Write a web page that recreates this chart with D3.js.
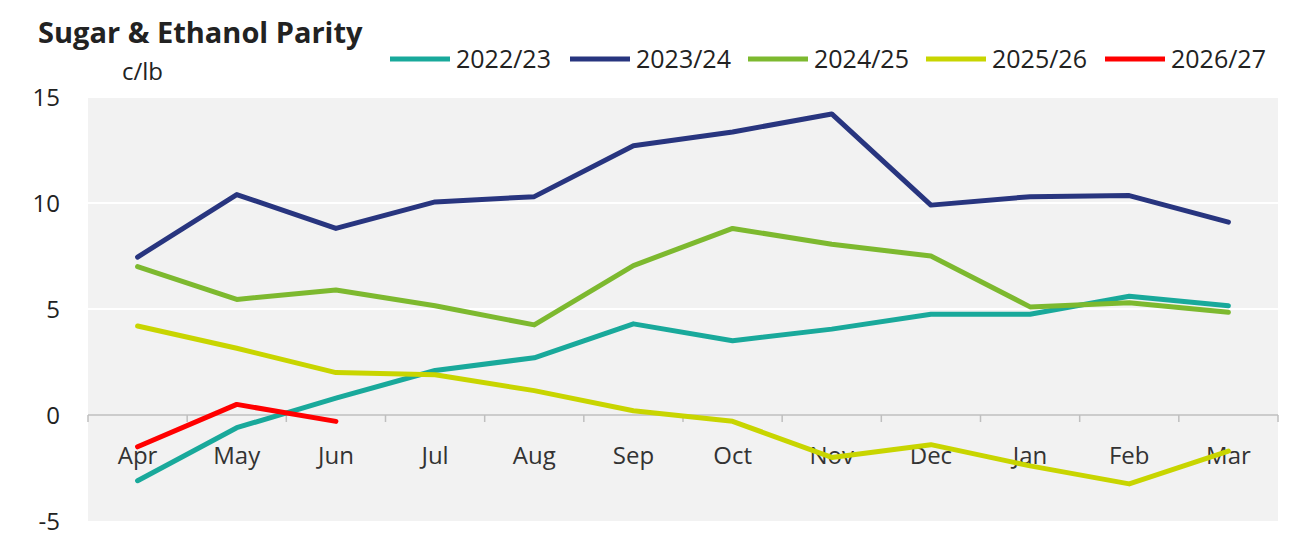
<!DOCTYPE html><html><head><meta charset="utf-8"><script src="https://cdn.jsdelivr.net/npm/d3@7"></script>
<style>body{margin:0;background:#fff;font-family:"Open Sans",sans-serif}</style></head><body><svg id="c" width="1308" height="559"></svg>
<script>
const months=["Apr","May","Jun","Jul","Aug","Sep","Oct","Nov","Dec","Jan","Feb","Mar"];
const yTicks=[-5,0,5,10,15];
const seriesNames=["2022/23","2023/24","2024/25","2025/26","2026/27"];
const colors=["#19a99b","#28357f","#7db92f","#c8d500","#ff0000"];
const s2223=[-3.1,-0.6,0.8,2.1,2.7,4.3,3.5,4.05,4.75,4.75,5.6,5.15];
const s2324=[7.45,10.4,8.8,10.05,10.3,12.7,13.35,14.2,9.9,10.3,10.35,9.1];
const s2425=[7.0,5.45,5.9,5.15,4.25,7.05,8.8,8.05,7.5,5.1,5.3,4.85];
const s2526=[4.2,3.15,2.0,1.9,1.15,0.2,-0.3,-2.0,-1.4,-2.4,-3.25,-1.7];
const s2627=[-1.5,0.5,-0.3];
const data=[s2223,s2324,s2425,s2526,s2627];
const svg=d3.select("#c");
const x=d3.scaleBand().domain(months).range([88,1278]);
const y=d3.scaleLinear().domain([-5,15]).range([521,97]);
svg.append("rect").attr("x",88).attr("y",97).attr("width",1190).attr("height",424).attr("fill","#f2f2f2");
yTicks.forEach(t=>{
  if(t!==0&&t!==-5)svg.append("line").attr("x1",88).attr("x2",1278).attr("y1",y(t)).attr("y2",y(t)).attr("stroke","#fff").attr("stroke-width",2);
  svg.append("text").attr("x",60).attr("y",y(t)+9).attr("text-anchor","end").attr("font-size",24).attr("fill","#222").text(t);
});
svg.append("line").attr("x1",88).attr("x2",1278).attr("y1",y(0)).attr("y2",y(0)).attr("stroke","#bfbfbf").attr("stroke-width",1.5);
months.forEach((m,i)=>{
  const xx=x(m);
  svg.append("line").attr("x1",xx).attr("x2",xx).attr("y1",y(0)).attr("y2",y(0)+7).attr("stroke","#bfbfbf").attr("stroke-width",1.5);
  svg.append("text").attr("x",xx+x.bandwidth()/2).attr("y",464).attr("text-anchor","middle").attr("font-size",24).attr("fill","#333").text(m);
});
svg.append("line").attr("x1",1278).attr("x2",1278).attr("y1",y(0)).attr("y2",y(0)+7).attr("stroke","#bfbfbf").attr("stroke-width",1.5);
const line=d3.line().x((d,i)=>x(months[i])+x.bandwidth()/2).y(d=>y(d));
data.forEach((s,k)=>svg.append("path").attr("d",line(s)).attr("fill","none").attr("stroke",colors[k]).attr("stroke-width",5).attr("stroke-linejoin","round").attr("stroke-linecap","round"));
svg.append("text").attr("x",38).attr("y",43).attr("font-size",29).attr("font-weight","bold").attr("fill","#222").text("Sugar & Ethanol Parity");
svg.append("text").attr("x",122).attr("y",80).attr("font-size",24).attr("fill","#222").text("c/lb");
const lx=[390,570,748,926,1105];
seriesNames.forEach((n,k)=>{
  svg.append("line").attr("x1",lx[k]).attr("x2",lx[k]+60).attr("y1",59).attr("y2",59).attr("stroke",colors[k]).attr("stroke-width",5);
  svg.append("text").attr("x",lx[k]+66).attr("y",68).attr("font-size",25).attr("fill","#222").text(n);
});
</script></body></html>
